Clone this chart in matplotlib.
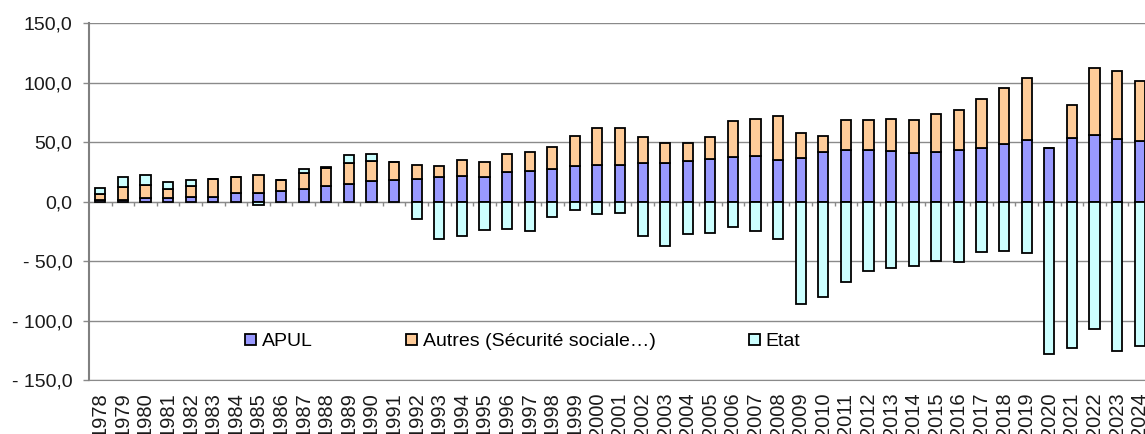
import numpy as np
import matplotlib
matplotlib.use("Agg")
import matplotlib.pyplot as plt
from matplotlib.ticker import FuncFormatter

plt.rcParams['font.family'] = ['Liberation Sans', 'DejaVu Sans']

# Données (Md€)
years = list(range(1978, 2025))
apul = [1.0, 1.5, 3.0, 3.0, 3.6, 4.2, 7.3, 7.3, 9.2, 10.3, 12.8, 14.8, 17.3, 17.9,
        19.3, 20.6, 21.5, 20.6, 24.8, 25.9, 27.1, 29.9, 31.2, 31.0, 32.4, 32.4,
        33.8, 36.0, 37.7, 38.2, 35.4, 36.8, 41.6, 43.6, 43.6, 42.4, 41.0, 41.9,
        43.8, 45.5, 48.9, 51.7, 45.5, 53.4, 56.2, 52.5, 50.9]
autres = [5.5, 11.0, 11.3, 7.9, 9.3, 14.8, 13.3, 14.7, 8.9, 14.0, 15.1, 18.1, 17.3, 15.3,
          11.9, 9.0, 13.4, 12.9, 15.1, 16.0, 18.9, 25.1, 30.5, 31.2, 22.3, 16.7,
          15.3, 18.4, 30.4, 31.3, 36.6, 21.1, 13.5, 25.2, 25.2, 26.7, 27.6, 32.0,
          32.9, 40.5, 46.6, 52.3, 0.0, 28.1, 56.2, 57.1, 50.8]
etat = [5.0, 8.5, 8.4, 5.6, 5.6, 0.0, 0.0, -2.8, 0.0, 3.3, 1.2, 6.4, 5.3, 0.0,
        -14.2, -31.2, -29.0, -24.0, -22.9, -24.6, -13.1, -7.0, -10.6, -9.5, -28.5, -37.7,
        -27.6, -26.2, -21.5, -24.3, -31.8, -86.5, -80.6, -67.4, -58.4, -55.9, -54.0, -50.0,
        -51.1, -42.4, -41.3, -43.6, -128.1, -123.4, -107.1, -125.3, -121.4]

labels = ['APUL', 'Autres (Sécurité sociale…)', 'Etat']
colors = ['#9999ff', '#ffcc99', '#ccffff']

x = np.arange(len(years))
apul = np.array(apul)
autres = np.array(autres)
etat = np.array(etat)

fig = plt.figure(figsize=(11.45, 4.34), dpi=100)
ax = fig.add_axes([89 / 1145, 54 / 434, 1062 / 1145, 356.7 / 434])

w = 0.45
kw = dict(width=w, edgecolor='black', linewidth=1.3, zorder=3)
ax.bar(x, apul, color=colors[0], label=labels[0], **kw)
ax.bar(x, autres, bottom=apul, color=colors[1], label=labels[1], **kw)
# l'Etat s'empile au-dessus si positif, sous zéro sinon
etat_bottom = np.where(etat >= 0, apul + autres, 0)
ax.bar(x, etat, bottom=etat_bottom, color=colors[2], label=labels[2], **kw)

ax.set_xlim(-0.5, len(years) - 0.5)
ax.set_ylim(-150, 150)
ax.set_yticks(np.arange(-150, 151, 50))

def fmt(v, pos):
    s = f"{abs(v):.1f}".replace('.', ',')
    return "- " + s if v < 0 else s

ax.yaxis.set_major_formatter(FuncFormatter(fmt))
ax.yaxis.grid(True, color='#8a8a8a', linewidth=1, zorder=0)
ax.set_axisbelow(True)

ax.set_xticks(x)
ax.set_xticklabels([str(y) for y in years], rotation=90, va='top')
ax.tick_params(axis='x', length=0, pad=9, labelsize=14.5, labelcolor='#1a1a1a')
ax.tick_params(axis='y', length=4, width=1, color='#8a8a8a', pad=8,
               labelsize=14, labelcolor='#1a1a1a')

for s in ['top', 'right']:
    ax.spines[s].set_visible(False)
ax.spines['left'].set_color('#808080')
ax.spines['left'].set_linewidth(1.5)
ax.spines['bottom'].set_color('#8a8a8a')

# axe des abscisses à zéro avec petites graduations
sec = ax.secondary_xaxis(0.5)
sec.set_xticks(x[:-1] + 0.5)
sec.xaxis.set_ticks_position('bottom')
sec.tick_params(axis='x', length=3, width=1, color='#8a8a8a', direction='out',
                labelbottom=False, labeltop=False)
for s in sec.spines.values():
    s.set_color('#707070')

ax.legend(loc='center left', bbox_to_anchor=(0.1473, 0.107), ncol=3, frameon=False,
          fontsize=14, handlelength=0.55, handleheight=0.55, handletextpad=0.3,
          columnspacing=4.8, borderpad=0, borderaxespad=0)

fig.savefig('out.png', dpi=100)
